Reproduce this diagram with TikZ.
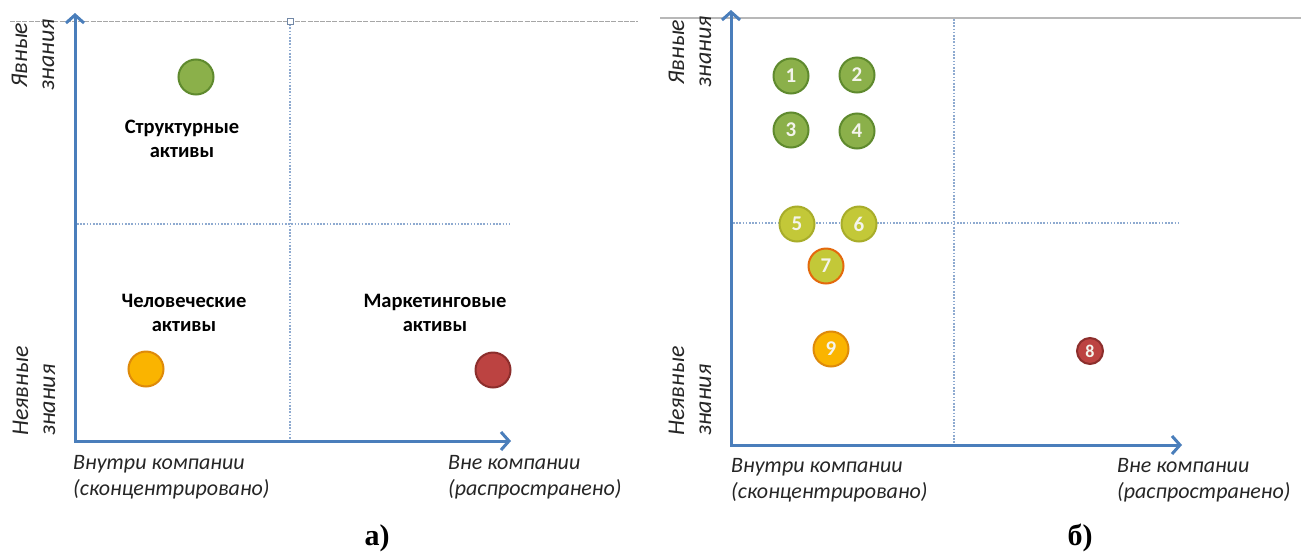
\documentclass[tikz,border=0pt]{standalone}
\usepackage{fontspec}
\setmainfont{Carlito}
\newfontfamily\serifb{Liberation Serif}
\usetikzlibrary{arrows.meta}
\definecolor{axisblue}{HTML}{4A7EBB}
\definecolor{gridblue}{HTML}{8EAAD0}
\definecolor{topgray}{HTML}{A6A6A6}
\definecolor{txtgray}{HTML}{262626}
\definecolor{gfill}{HTML}{8BB04A}
\definecolor{gdraw}{HTML}{5F8A2E}
\definecolor{yfill}{HTML}{C3C838}
\definecolor{ydraw}{HTML}{A8AD2A}
\definecolor{ofill}{HTML}{FAB400}
\definecolor{odraw}{HTML}{DE8A0A}
\definecolor{rfill}{HTML}{BC4341}
\definecolor{rdraw}{HTML}{8C2E2C}
\definecolor{o7draw}{HTML}{E4690C}
\definecolor{numwhite}{HTML}{F4F4EC}
\tikzset{
  axisline/.style={draw=axisblue, line width=3pt,
    {Straight Barb[length=8pt,width=18pt]}-{Straight Barb[length=8pt,width=18pt]}},
  gridline/.style={draw=gridblue, line width=1.2pt, dash pattern=on 1.6pt off 1.6pt},
  dot/.style={circle, line width=2pt, inner sep=0pt, minimum size=35pt,
    text=numwhite, font=\fontsize{21}{21}\selectfont\bfseries},
  greendot/.style={dot, fill=gfill, draw=gdraw},
  yeldot/.style={dot, fill=yfill, draw=ydraw},
  orangedot/.style={dot, fill=ofill, draw=odraw},
  reddot/.style={dot, fill=rfill, draw=rdraw},
  boldlabel/.style={align=center, text=black, font=\fontsize{20.5}{24}\selectfont\bfseries},
  axislabel/.style={text=txtgray, inner sep=0pt, font=\fontsize{22}{26}\selectfont\itshape},
  sidelabel/.style={text=txtgray, inner sep=0pt, rotate=90, font=\fontsize{24}{27}\selectfont\itshape},
  panel/.style={inner sep=0pt, font=\fontsize{30}{30}\selectfont\serifb\bfseries}
}
\begin{document}
\begin{tikzpicture}[x=1pt,y=-1pt]
\useasboundingbox[fill=white] (0,0) rectangle (1301,552);

% ---------------- panel a ----------------
\draw[topgray, line width=1pt, dash pattern=on 5pt off 1.2pt] (10,21) -- (638,21);
\coordinate (aTop) at (75,13);
\coordinate (aO) at (75,441);
\coordinate (aRight) at (511,441);
\draw[gridline] (290,21) -- (290,439);
\draw[gridline] (77,224) -- (510,224);
\node[draw=gridblue!80!black, fill=white, line width=0.8pt, minimum size=6pt, inner sep=0pt] (sq) at (290,21) {};
\draw[axisline] (aTop) -- (aO) -- (aRight);

\node[greendot] (ga) at (196,77) {};
\node[orangedot] (oa) at (146,369) {};
\node[reddot] (ra) at (493,370) {};

\node[boldlabel] (lstruct) at (182,139) {Структурные\\активы};
\node[boldlabel] (lhuman) at (184,313) {Человеческие\\активы};
\node[boldlabel] (lmark) at (435,313) {Маркетинговые\\активы};

\node[sidelabel, align=center] (ayes) at (33,55) {Явные\\знания};
\node[sidelabel, anchor=west, align=left] (ano) at (34,436) {Неявные\\знания};
\node[axislabel, anchor=north west, align=left] (ain) at (73,455) {Внутри компании\\(сконцентрировано)};
\node[axislabel, anchor=north west, align=left] (aout) at (448,455) {Вне компании\\(распространено)};
\node[panel] (pa) at (377,538) {а)};

% ---------------- panel b ----------------
\draw[topgray!80, line width=1.2pt] (660,18) -- (1301,18);
\coordinate (bTop) at (731,10);
\coordinate (bO) at (731,445);
\coordinate (bRight) at (1182,445);
\draw[gridline] (954,19) -- (954,443);
\draw[gridline] (733,223) -- (1180,223);
\draw[axisline] (bTop) -- (bO) -- (bRight);

\node[greendot] (n1) at (791,76) {1};
\node[greendot] (n2) at (857,75) {2};
\node[greendot] (n3) at (791,130) {3};
\node[greendot] (n4) at (857,131) {4};
\node[yeldot] (n5) at (797,224) {5};
\node[yeldot] (n6) at (859,224) {6};
\node[yeldot, draw=o7draw] (n7) at (826,266) {7};
\node[orangedot] (n9) at (831,349) {9};
\node[reddot, minimum size=26pt, font=\fontsize{18}{18}\selectfont\bfseries] (n8) at (1090,351) {8};

\node[sidelabel, align=center] (byes) at (690,52) {Явные\\знания};
\node[sidelabel, anchor=west, align=left] (bno) at (690,436) {Неявные\\знания};
\node[axislabel, anchor=north west, align=left] (bin) at (731,458) {Внутри компании\\(сконцентрировано)};
\node[axislabel, anchor=north west, align=left] (bout) at (1117,458) {Вне компании\\(распространено)};
\node[panel] (pb) at (1080,538) {б)};
\end{tikzpicture}
\end{document}
